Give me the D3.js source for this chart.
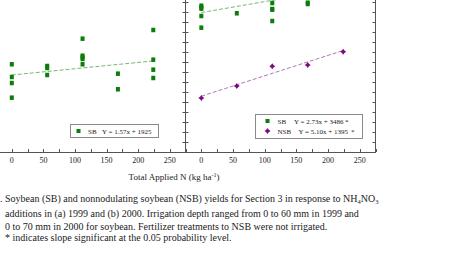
<!DOCTYPE html>
<html>
<head>
<meta charset="utf-8">
<script src="https://cdn.jsdelivr.net/npm/d3@7"></script>
<style>
  body { margin: 0; background: #fff; }
  text { font-family: "Liberation Serif", "Times New Roman", serif; fill: #222; }
</style>
</head>
<body>
<div id="main"></div>
<script>
const ctx = {
    w: 474,
    h: 272,
    top: -8,
    bottom: 152,
    panels: [[-4, 185.5], [185.5, 375.5]]
};

// N rates applied (kg/ha) and yields (kg/ha)
const sb1999N = [0, 0, 0, 0, 56, 56, 56, 112, 112, 112, 112, 112, 168, 168, 224, 224, 224, 224];
const sb1999Yield = [2193, 1875, 1725, 1358, 2150, 2100, 1925, 2833, 2408, 2368, 2325, 2193, 1958, 1568, 3050, 2308, 2058, 1850];

const sb2000N = [0, 0, 0, 0, 0, 56, 112, 112, 112, 112, 168, 168];
const sb2000Yield = [3658, 3618, 3583, 3400, 3108, 3468, 3725, 3575, 3558, 3275, 3733, 3700];

const nsb2000N = [0, 56, 112, 168, 224];
const nsb2000Yield = [1350, 1650, 2143, 2175, 2508];

// regression fits (slope, intercept) as printed in the legends
const fitNames = ["SB", "SB", "NSB"];
const fitSlope = [1.57, 2.73, 5.10];
const fitIntercept = [1925, 3486, 1395];
const fitSignif = ["", "*", "*"];

const xTickLabels = [0, 50, 100, 150, 200, 250];
const xMinorTicks = d3.range(-25, 276, 25);
const yMinorTicks = d3.range(250, 4000, 250);

const sbColor = "#0b7d0b";
const nsbColor = "#7d0a80";
const sbLine = "#74b874";
const nsbLine = "#b478b4";

const captionLines = [
    [". Soybean (SB) and nonnodulating soybean (NSB) yields for Section 3 in response to NH", "4", "NO", "3"],
    ["additions in (a) 1999 and (b) 2000. Irrigation depth ranged from 0 to 60 mm in 1999 and"],
    ["0 to 70 mm in 2000 for soybean. Fertilizer treatments to NSB were not irrigated."],
    ["* indicates slope significant at the 0.05 probability level."]
];

// 4 point star marker used for NSB
const star4 = {
    draw(context, size) {
        const r = Math.sqrt(size) * 0.75, q = r * 0.42;
        context.moveTo(0, -r);
        context.lineTo(q, -q);
        context.lineTo(r, 0);
        context.lineTo(q, q);
        context.lineTo(0, r);
        context.lineTo(-q, q);
        context.lineTo(-r, 0);
        context.lineTo(-q, -q);
        context.closePath();
    }
};

function drawPanel(g, i, series, fits) {
    const [x0, x1] = ctx.panels[i];
    const x = d3.scaleLinear().domain([-25, 275]).range([x0, x1]);
    const y = d3.scaleLinear().domain([0, 4000]).range([ctx.bottom, ctx.top]);

    // x axis line + inward ticks
    g.append("line")
        .attr("x1", x0).attr("x2", x1)
        .attr("y1", ctx.bottom + 0.5).attr("y2", ctx.bottom + 0.5)
        .attr("stroke", "#555");
    g.selectAll(".xt").data(xMinorTicks).enter().append("line")
        .attr("x1", d => Math.round(x(d)) + 0.5).attr("x2", d => Math.round(x(d)) + 0.5)
        .attr("y1", ctx.bottom).attr("y2", ctx.bottom - 3)
        .attr("stroke", "#555");
    g.selectAll(".xl").data(xTickLabels).enter().append("text")
        .attr("x", d => x(d)).attr("y", ctx.bottom + 11)
        .attr("text-anchor", "middle")
        .attr("font-size", 8)
        .text(d => d);

    // right border of the panel with inward ticks
    g.append("line")
        .attr("x1", x1).attr("x2", x1)
        .attr("y1", ctx.top).attr("y2", ctx.bottom + 1)
        .attr("stroke", "#555");
    g.selectAll(".yr").data(yMinorTicks).enter().append("line")
        .attr("x1", x1).attr("x2", x1 - 3)
        .attr("y1", d => Math.round(y(d)) + 0.5).attr("y2", d => Math.round(y(d)) + 0.5)
        .attr("stroke", "#555");
    // left axis ticks (pointing inward)
    g.selectAll(".yl").data(yMinorTicks).enter().append("line")
        .attr("x1", x0).attr("x2", x0 + 3)
        .attr("y1", d => Math.round(y(d)) + 0.5).attr("y2", d => Math.round(y(d)) + 0.5)
        .attr("stroke", "#555");

    // fit lines over 0..224
    fits.forEach(f => {
        g.append("line")
            .attr("x1", x(0)).attr("y1", y(fitIntercept[f.k]))
            .attr("x2", x(224)).attr("y2", y(fitIntercept[f.k] + fitSlope[f.k] * 224))
            .attr("stroke", f.line)
            .attr("stroke-width", 1)
            .attr("stroke-dasharray", "4,2");
    });

    // points
    series.forEach(s => {
        const pts = s.n.map((n, j) => ({ n: n, v: s.v[j] }));
        if (s.shape === "square") {
            g.selectAll(null).data(pts).enter().append("rect")
                .attr("x", d => x(d.n) - 2).attr("y", d => y(d.v) - 2.25)
                .attr("width", 4).attr("height", 4.5)
                .attr("fill", s.color);
        } else {
            g.selectAll(null).data(pts).enter().append("path")
                .attr("transform", d => `translate(${x(d.n)},${y(d.v)})`)
                .attr("d", d3.symbol().type(star4).size(16))
                .attr("fill", s.color);
        }
    });
}

function drawLegend(g, box, rows) {
    g.append("rect")
        .attr("x", box[0] + 0.5).attr("y", box[1] + 0.5)
        .attr("width", box[2]).attr("height", box[3])
        .attr("fill", "#fff").attr("stroke", "#8a8a8a");
    rows.forEach((r, i) => {
        const cy = box[1] + 7 + i * 10;
        if (r.shape === "square") {
            g.append("rect").attr("x", r.mx - 2).attr("y", cy - 2).attr("width", 4).attr("height", 4).attr("fill", r.color);
        } else {
            g.append("path").attr("transform", `translate(${r.mx},${cy})`)
                .attr("d", d3.symbol().type(star4).size(16)).attr("fill", r.color);
        }
        const k = r.k;
        g.append("text").attr("x", r.nameX).attr("y", cy + 2.5).attr("font-size", 7).text(fitNames[k]);
        g.append("text").attr("x", r.eqX).attr("y", cy + 2.5).attr("font-size", 7)
            .text(`Y = ${fitSlope[k].toFixed(2)}x + ${fitIntercept[k]}`);
        if (fitSignif[k]) {
            g.append("text").attr("x", r.starX).attr("y", cy + 3).attr("font-size", 7).text(fitSignif[k]);
        }
    });
}

function createViz() {
    const svgEl = d3.select("#main").append("svg")
        .attr("width", ctx.w).attr("height", ctx.h);
    const rootG = svgEl.append("g").attr("id", "rootG");

    drawPanel(rootG.append("g"), 0,
        [{ n: sb1999N, v: sb1999Yield, shape: "square", color: sbColor }],
        [{ k: 0, line: sbLine }]);
    drawPanel(rootG.append("g"), 1,
        [{ n: sb2000N, v: sb2000Yield, shape: "square", color: sbColor },
         { n: nsb2000N, v: nsb2000Yield, shape: "star", color: nsbColor }],
        [{ k: 1, line: sbLine }, { k: 2, line: nsbLine }]);

    drawLegend(rootG.append("g"), [70, 124, 88, 13],
        [{ k: 0, shape: "square", color: sbColor, mx: 78.5, nameX: 88, eqX: 102 }]);
    drawLegend(rootG.append("g"), [255, 114, 107, 24],
        [{ k: 1, shape: "square", color: sbColor, mx: 267.5, nameX: 277.5, eqX: 294, starX: 345 },
         { k: 2, shape: "star", color: nsbColor, mx: 267.5, nameX: 277.5, eqX: 298.5, starX: 351 }]);

    // x axis title
    const xt = rootG.append("text")
        .attr("x", 174).attr("y", 180)
        .attr("text-anchor", "middle")
        .attr("font-size", 9);
    xt.append("tspan").text("Total Applied N (kg ha");
    xt.append("tspan").attr("dy", -3.5).attr("font-size", 6).text("-1");
    xt.append("tspan").attr("dy", 3.5).text(")");

    // caption
    const baselines = [201.5, 216.5, 230, 241];
    const lefts = [0, 5, 5, 5];
    captionLines.forEach((parts, i) => {
        const t = rootG.append("text")
            .attr("x", lefts[i]).attr("y", baselines[i])
            .attr("font-size", 10);
        parts.forEach((p, j) => {
            const sub = j % 2 === 1;
            const ts = t.append("tspan").text(p);
            if (sub) ts.attr("font-size", 6.5).attr("dy", 2);
            else if (j > 0) ts.attr("dy", -2);
        });
    });
}

createViz();
</script>
</body>
</html>
